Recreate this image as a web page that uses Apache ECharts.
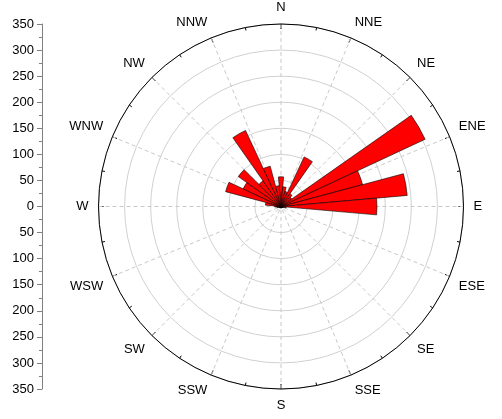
<!DOCTYPE html>
<html>
<head>
<meta charset="utf-8">
<script src="https://cdn.jsdelivr.net/npm/echarts@6/dist/echarts.min.js"></script>
<style>
  html, body { margin: 0; padding: 0; background: #fff; }
  #wind_rose { width: 502px; height: 419px; }
</style>
</head>
<body>
<div id="wind_rose"></div>
<script>
// 16 个方位标签
var directionLabels = ['N', 'NNE', 'NE', 'ENE', 'E', 'ESE', 'SE', 'SSE',
  'S', 'SSW', 'SW', 'WSW', 'W', 'WNW', 'NW', 'NNW']
// 36 个 10° 扇区（0°, 10°, ... 350°）
var sectorAngles = ['0', '10', '20', '30', '40', '50', '60', '70', '80', '90',
  '100', '110', '120', '130', '140', '150', '160', '170', '180', '190',
  '200', '210', '220', '230', '240', '250', '260', '270', '280', '290',
  '300', '310', '320', '330', '340', '350']
// 每个扇区的频数
var sectorCounts = [57, 38, 30, 105, 30, 25, 305, 162, 243, 184,
  10, 5, 4, 3, 3, 3, 3, 3, 3, 3,
  3, 3, 3, 3, 4, 5, 8, 12, 30, 110,
  80, 100, 60, 161, 80, 40]
// 左侧刻度
var scaleMax = 350
var scaleStep = 50

var labelFont = 'Liberation Sans, Arial, sans-serif'

var chart = echarts.init(document.getElementById('wind_rose'))

var option = {
  animation: false,
  grid: {
    left: 42,
    top: 24,
    width: 1,
    height: 365,
  },
  xAxis: {
    type: 'value',
    show: false,
  },
  yAxis: {
    type: 'value',
    min: -scaleMax,
    max: scaleMax,
    interval: scaleStep,
    axisLine: {
      show: true,
      lineStyle: { color: '#808080' },
    },
    axisTick: {
      show: true,
      length: 5,
      lineStyle: { color: '#808080' },
    },
    minorTick: {
      show: true,
      splitNumber: 2,
      length: 3,
      lineStyle: { color: '#808080' },
    },
    splitLine: { show: false },
    axisLabel: {
      color: '#000',
      fontSize: 13,
      fontFamily: labelFont,
      margin: 8,
      formatter: function (v) {
        return String(Math.abs(v))
      },
    },
  },
  polar: [
    { center: [281, 206.5], radius: 182.5 },
    { center: [281, 206.5], radius: 182.5 },
  ],
  angleAxis: [
    {
      // 方位标签、辐射线、外圈
      polarIndex: 0,
      type: 'value',
      min: 0,
      max: 360,
      interval: 22.5,
      startAngle: 90,
      clockwise: true,
      axisLine: {
        show: true,
        lineStyle: { color: '#000', width: 1 },
      },
      axisTick: {
        show: true,
        inside: true,
        length: 5,
        lineStyle: { color: '#000' },
      },
      minorTick: {
        show: true,
        splitNumber: 2,
        length: 3,
        lineStyle: { color: '#000' },
      },
      splitLine: {
        show: true,
        lineStyle: { color: '#c8c8c8', type: [4, 3], width: 1 },
      },
      axisLabel: {
        color: '#000',
        fontSize: 13,
        fontFamily: labelFont,
        margin: 10,
        formatter: function (v) {
          return directionLabels[Math.round(v / 22.5) % 16]
        },
      },
      z: 1,
    },
    {
      // 柱子用的 36 扇区
      polarIndex: 1,
      type: 'category',
      data: sectorAngles,
      startAngle: 95,
      clockwise: true,
      show: false,
    },
  ],
  radiusAxis: [
    {
      polarIndex: 0,
      type: 'value',
      min: 0,
      max: scaleMax,
      interval: scaleStep,
      axisLine: { show: false },
      axisTick: { show: false },
      axisLabel: { show: false },
      splitLine: {
        show: true,
        lineStyle: { color: '#d0d0d0', width: 1 },
      },
      z: 0,
    },
    {
      polarIndex: 1,
      type: 'value',
      min: 0,
      max: scaleMax,
      show: false,
      splitLine: { show: false },
    },
  ],
  series: [
    {
      name: 'Frequency',
      type: 'bar',
      coordinateSystem: 'polar',
      polarIndex: 1,
      barCategoryGap: '0%',
      data: sectorCounts,
      itemStyle: {
        color: '#ff0000',
        borderColor: '#000',
        borderWidth: 0.6,
      },
      z: 3,
    },
  ],
}
chart.setOption(option)
window.onresize = chart.resize
</script>
</body>
</html>
